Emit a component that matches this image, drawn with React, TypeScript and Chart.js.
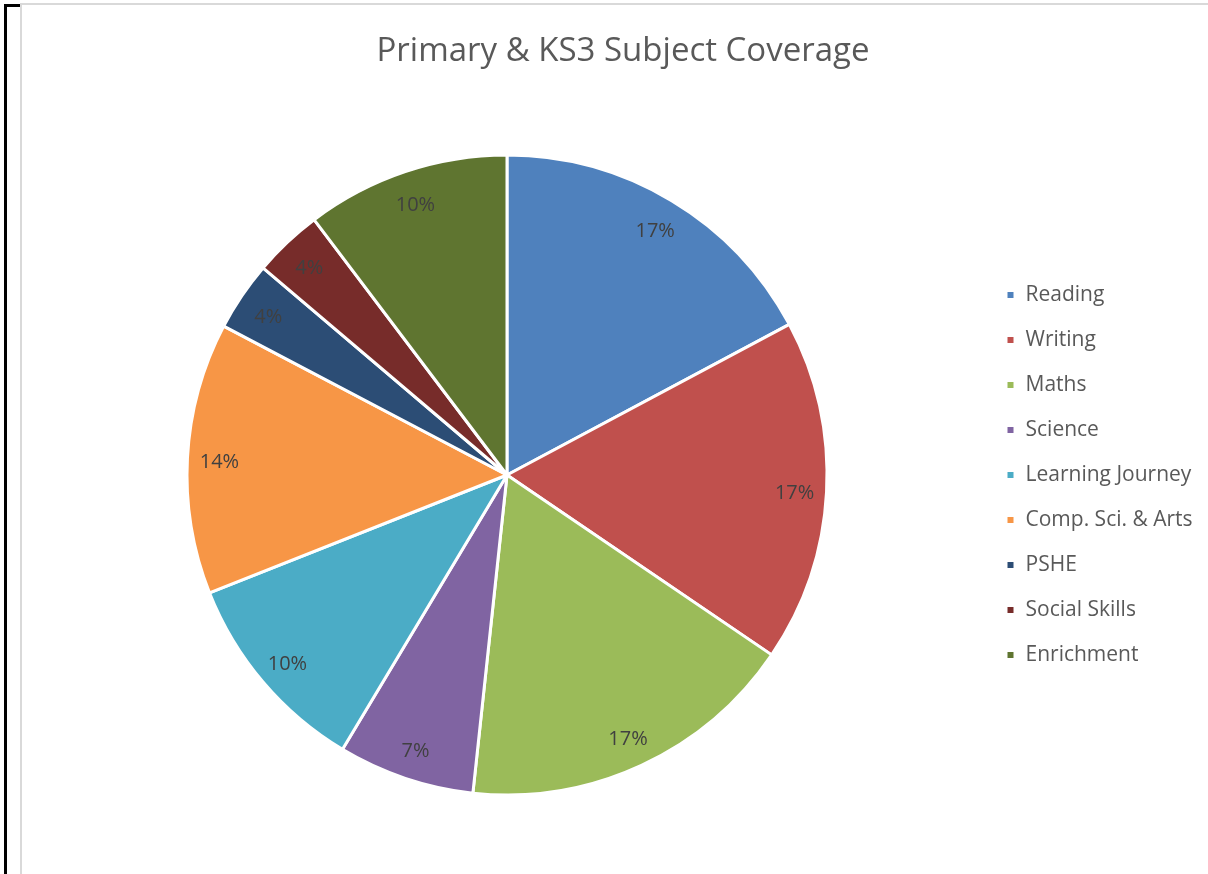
import React, { useEffect, useRef } from "react";
import { Chart, registerables } from "chart.js";

Chart.register(...registerables);

const TITLE = "Primary & KS3 Subject Coverage";
const categories = [
  "Reading",
  "Writing",
  "Maths",
  "Science",
  "Learning Journey",
  "Comp. Sci. & Arts",
  "PSHE",
  "Social Skills",
  "Enrichment",
];
const shares = [17.2, 17.3, 17.2, 6.9, 10.4, 13.7, 3.5, 3.5, 10.3];
const sliceColors = [
  "#4F81BD",
  "#C0504D",
  "#9BBB59",
  "#8064A2",
  "#4BACC6",
  "#F79646",
  "#2C4D75",
  "#772C2A",
  "#5F7530",
];

const FONT = "'Open Sans', 'Noto Sans', sans-serif";
const LEGEND_FONT_SIZE = 21;
const LEGEND_PAD = 24;
const LEGEND_BOX = 9;
const CHART_RIGHT = 982;
const W = 1208;
const H = 874;

const pctLabels = {
  id: "pctLabels",
  afterDatasetsDraw(chart: any) {
    const meta = chart.getDatasetMeta(0);
    const data = chart.data.datasets[0].data as number[];
    const total = data.reduce((a, b) => a + b, 0);
    const ctx = chart.ctx;
    ctx.save();
    ctx.font = `20px ${FONT}`;
    ctx.fillStyle = "#404040";
    ctx.textAlign = "center";
    ctx.textBaseline = "middle";
    meta.data.forEach((arc: any, i: number) => {
      const p = arc.getProps(["x", "y", "startAngle", "endAngle", "outerRadius"], true);
      const mid = (p.startAngle + p.endAngle) / 2;
      const r = p.outerRadius * 0.9;
      const pct = Math.round((data[i] / total) * 100 + 1e-6);
      ctx.fillText(pct + "%", p.x + Math.cos(mid) * r, p.y + Math.sin(mid) * r + 3);
    });
    ctx.restore();
  },
};

const chartTitle = {
  id: "chartTitle",
  afterDraw(chart: any, _args: any, opts: any) {
    const ctx = chart.ctx;
    ctx.save();
    ctx.font = `${opts.size}px ${FONT}`;
    ctx.fillStyle = opts.color;
    ctx.textAlign = "center";
    ctx.textBaseline = "alphabetic";
    ctx.fillText(opts.text, opts.x, opts.baseline);
    ctx.restore();
  },
};

export default function App() {
  const ref = useRef<HTMLCanvasElement | null>(null);

  useEffect(() => {
    if (!ref.current) return;
    const mctx = document.createElement("canvas").getContext("2d")!;
    mctx.font = `${LEGEND_FONT_SIZE}px ${FONT}`;
    const maxText = Math.max(...categories.map((c) => mctx.measureText(c).width));
    const legendWidth = LEGEND_PAD + LEGEND_BOX + LEGEND_FONT_SIZE / 2 + maxText + 10;
    const padRight = W - CHART_RIGHT - legendWidth;

    const chart = new Chart(ref.current, {
      type: "pie",
      data: {
        labels: categories,
        datasets: [
          {
            data: shares,
            backgroundColor: sliceColors,
            borderColor: "#FFFFFF",
            borderWidth: 3,
          },
        ],
      },
      options: {
        animation: false,
        responsive: false,
        maintainAspectRatio: false,
        layout: { padding: { left: 32, right: padRight, top: 153.5, bottom: 77.5 } },
        plugins: {
          title: { display: false },
          chartTitle: { text: TITLE, x: 623, baseline: 61, size: 33, color: "#595959" },
          legend: {
            display: true,
            position: "right",
            fullSize: false,
            labels: {
              boxWidth: LEGEND_BOX,
              boxHeight: LEGEND_BOX,
              padding: LEGEND_PAD,
              color: "#595959",
              font: { family: FONT, size: LEGEND_FONT_SIZE },
            },
          },
          tooltip: { enabled: false },
        } as any,
      },
      plugins: [pctLabels, chartTitle],
    });
    return () => chart.destroy();
  }, []);

  return (
    <div style={{ position: "fixed", left: 0, top: 0, width: W, height: H, background: "#fff", overflow: "hidden" }}>
      <canvas ref={ref} width={W} height={H} style={{ position: "absolute", left: 0, top: 0, width: W, height: H }} />
      <div style={{ position: "absolute", left: 20, top: 3, width: 1188, height: 2, background: "#D9D9D9" }} />
      <div style={{ position: "absolute", left: 20, top: 3, width: 2, height: 871, background: "#D9D9D9" }} />
      <div style={{ position: "absolute", left: 4, top: 4, width: 3, height: 870, background: "#000" }} />
      <div style={{ position: "absolute", left: 4, top: 4, width: 16, height: 3, background: "#000" }} />
    </div>
  );
}
